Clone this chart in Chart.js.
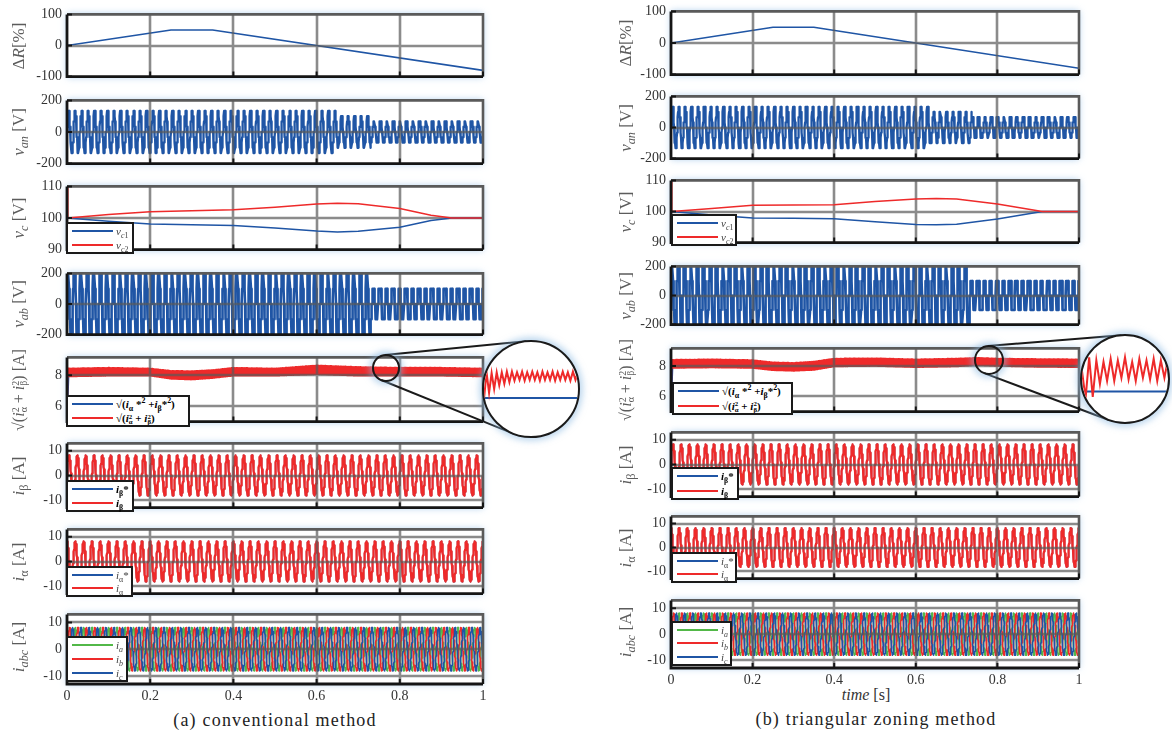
<!DOCTYPE html>
<html>
<head>
<meta charset="utf-8">
<title>conventional vs triangular zoning</title>
<script src="https://cdn.jsdelivr.net/npm/chart.js@4.4.1/dist/chart.umd.min.js"></script>
<style>
  html, body { margin: 0; padding: 0; background: #fff; }
  body { width: 1172px; height: 746px; position: relative; overflow: hidden; font-family: "Liberation Serif", "DejaVu Serif", serif; }
  canvas.panel { position: absolute; z-index: 1; }
  .ylab { position: absolute; transform: translate(-50%, -50%) rotate(-90deg); white-space: nowrap; color: #5c5c5c; font-size: 17px; z-index: 2; }
  .ylab sub, .lg sub, .lg sup { font-size: 0.72em; line-height: 0; }
  .sp { display: inline-block; position: relative; top: -0.5em; font-size: 0.62em; }
  .sb { display: inline-block; position: relative; top: 0.35em; font-size: 0.62em; margin-left: -0.5em; }
  .lg { position: absolute; background: #fff; border: 2px solid #1a1a1a; box-sizing: border-box; z-index: 3; display: flex; flex-direction: column; justify-content: space-around; font-size: 11px; color: #444; }
  .lg .row { display: flex; align-items: center; height: 13px; white-space: nowrap; }
  .lg .ln { display: inline-block; width: 41px; height: 2px; margin: 0 3px 0 4px; flex: none; }
  .lg.bold { font-weight: bold; color: #000; }
  .cap { position: absolute; transform: translate(-50%, -50%); white-space: nowrap; font-size: 18px; letter-spacing: 1.2px; color: #222; }
  .xlab { position: absolute; transform: translate(-50%, -50%); white-space: nowrap; font-size: 16px; color: #333; }
  .circ { position: absolute; border-radius: 50%; border: 2px solid #1a1a1a; box-sizing: border-box; box-shadow: 0 0 6px 3px rgba(140,185,225,0.55); z-index: 4; }
  .inset { overflow: hidden; background: #fff; z-index: 5; }
  svg#links { position: absolute; left: 0; top: 0; z-index: 3; }
</style>
</head>
<body>
<svg id="links" width="1172" height="746"></svg>
<script>
// ---------- values ----------
const timeTicks = [0, 0.2, 0.4, 0.6, 0.8, 1];
const SAMPLES = 3000;

// ΔR [%] breakpoints
const dR_t_a = [0, 0.25, 0.35, 1];
const dR_v_a = [0, 50, 50, -80];
const dR_t_b = [0, 0.25, 0.35, 1];
const dR_v_b = [0, 50, 50, -80];

// inverter voltages (amplitude held between step times, multilevel steps)
const vFreq = 64;
const van_start_a = [0, 0.645, 0.73];
const van_amp_a = [140, 105, 75];
const van_start_b = [0, 0.635, 0.737];
const van_amp_b = [140, 105, 75];
const vanLevel = 33.3;
const vab_start_a = [0, 0.73];
const vab_amp_a = [260, 130];
const vab_start_b = [0, 0.733];
const vab_amp_b = [260, 130];
const vabLevel = 100;
const vabLimit = 200;

// dc-link capacitor voltages
const vc1_t_a = [0, 0.1, 0.2, 0.3, 0.4, 0.5, 0.6, 0.65, 0.7, 0.8, 0.875, 0.925, 1];
const vc1_v_a = [100, 99.0, 98.1, 97.9, 97.6, 96.8, 95.9, 95.6, 95.8, 97.1, 99.2, 100, 100];
const vc2_t_a = [0, 0.002, 0.1, 0.2, 0.3, 0.4, 0.5, 0.6, 0.65, 0.7, 0.8, 0.875, 0.925, 1];
const vc2_v_a = [110, 100, 101.1, 102.0, 102.3, 102.6, 103.4, 104.4, 104.7, 104.5, 103.0, 100.9, 100, 100];
const vc1_t_b = [0, 0.1, 0.2, 0.3, 0.4, 0.5, 0.6, 0.65, 0.7, 0.8, 0.91, 1];
const vc1_v_b = [100, 98.9, 97.9, 97.8, 97.7, 96.7, 95.8, 95.7, 95.9, 97.6, 100, 100];
const vc2_t_b = [0, 0.002, 0.1, 0.2, 0.3, 0.4, 0.5, 0.6, 0.65, 0.7, 0.8, 0.91, 1];
const vc2_v_b = [110, 100, 101.0, 102.0, 102.1, 102.2, 103.2, 104.0, 104.2, 104.0, 102.4, 100, 100];

// current magnitude: ripple band edges of the measured value, flat reference
const mag_t_a = [0, 0.1, 0.2, 0.25, 0.3, 0.35, 0.4, 0.5, 0.55, 0.6, 0.65, 0.7, 0.8, 0.9, 1];
const mag_hi_a = [8.45, 8.5, 8.45, 8.3, 8.28, 8.35, 8.5, 8.45, 8.55, 8.65, 8.6, 8.55, 8.5, 8.5, 8.45];
const mag_lo_a = [7.9, 7.95, 7.95, 7.75, 7.7, 7.8, 7.95, 7.95, 8.0, 8.05, 8.0, 7.95, 7.95, 7.95, 7.9];
const mag_t_b = [0, 0.1, 0.2, 0.25, 0.3, 0.35, 0.4, 0.5, 0.6, 0.7, 0.75, 0.8, 0.9, 1];
const mag_hi_b = [8.42, 8.45, 8.4, 8.25, 8.22, 8.3, 8.5, 8.52, 8.45, 8.5, 8.55, 8.5, 8.47, 8.45];
const mag_lo_b = [7.85, 7.88, 7.85, 7.7, 7.66, 7.72, 7.95, 7.98, 7.9, 7.95, 8.05, 7.98, 7.92, 7.9];
const magStart = 5.0;
const magRef_a = 8.1;
const magRef_b = 8.05;

// phase currents
const iFreq = 50;
const iAmp = 8.1;
const iRefAmp = 8.25;

// zoomed windows (values in A)
const zoomRed_a = [8.09, 8.44, 8.17, 8.43, 8.22, 8.44, 8.27, 8.44, 8.29, 8.45, 8.31, 8.45, 8.33, 8.44, 8.34, 8.45, 8.33, 8.44, 8.34,
                   8.45, 8.34, 8.44, 8.33, 8.45, 8.34, 8.44, 8.34, 8.45, 8.33, 8.44, 8.34, 8.45, 8.34, 8.44, 8.33, 8.45, 8.34, 8.44];
const zoomRed_b = [8.37, 8.01, 8.55, 8.03, 8.51, 8.20, 8.49, 8.24, 8.53, 8.24, 8.51, 8.28, 8.55, 8.26, 8.49, 8.24, 8.53, 8.28,
                   8.51, 8.26, 8.53, 8.24, 8.51, 8.28, 8.53];
const zoomRef = 8.1;

// ---------- helpers ----------
const FONT = '"Liberation Serif", "DejaVu Serif", serif';
const C_BLUE = '#1f55a5', C_RED = '#ee2a2a', C_GREEN = '#52b848';

function lerp(ts, vs, t) {
  if (t <= ts[0]) return vs[0];
  for (let i = 1; i < ts.length; i++) {
    if (t <= ts[i]) { const f = (t - ts[i - 1]) / (ts[i] - ts[i - 1]); return vs[i - 1] + f * (vs[i] - vs[i - 1]); }
  }
  return vs[vs.length - 1];
}
function stepAmp(starts, amps, t) {
  let a = amps[0];
  for (let i = 0; i < starts.length; i++) if (t >= starts[i]) a = amps[i];
  return a;
}
function pts(ts, vs) { return ts.map((t, i) => ({ x: t, y: vs[i] })); }
function wave(starts, amps, freq, phase, level, limit) {
  const out = [];
  for (let k = 0; k <= SAMPLES; k++) {
    const t = k / SAMPLES;
    let v = stepAmp(starts, amps, t) * Math.sin(2 * Math.PI * freq * t + phase);
    if (level) v = Math.round(v / level) * level;
    if (limit) v = Math.max(-limit, Math.min(limit, v));
    out.push({ x: t, y: v });
  }
  return out;
}
function band(ts, hi, lo, start) {
  const out = [{ x: 0, y: start }];
  for (let k = 1; k <= 1000; k++) {
    const t = k / 1000;
    out.push({ x: t, y: k % 2 ? lerp(ts, hi, t) : lerp(ts, lo, t) });
  }
  return out;
}
function flat(v, start) { return [{ x: 0, y: start }, { x: 0.004, y: v }, { x: 1, y: v }]; }

// ---------- layout ----------
const colA = { left: 0, axisW: 67, plotRight: 483, titleX: 19 };
const colB = { left: 604, axisW: 67, plotRight: 1079, titleX: 626 };
const rowsA = [[10, 81], [96, 168], [182, 254], [269, 339], [353, 426], [439, 512], [525, 598], [610, 684]];
const rowsB = [[7, 79], [92, 163], [176, 247], [262, 329], [344, 416], [428, 501], [512, 583], [596, 668]];

const sq = (s) => `<i>i</i><span class="sp">2</span><span class="sb">${s}</span>`;
const sqrtTitle = `√(${sq('α')} + ${sq('β')}) [A]`;
const titles = ['Δ<i>R</i>[%]', '<i>v</i><sub><i>an</i></sub> [V]', '<i>v</i><sub><i>c</i></sub> [V]', '<i>v</i><sub><i>ab</i></sub> [V]',
  sqrtTitle, '<i>i</i><sub>β</sub> [A]', '<i>i</i><sub>α</sub> [A]', '<i>i</i><sub><i>abc</i></sub> [A]'];

// series are listed bottom-to-top (last one is painted on top)
function panelsFor(m) {
  const A = m === 'a';
  return [
    { yMin: -100, yMax: 100, yTicks: [-100, 0, 100],
      series: [{ data: pts(A ? dR_t_a : dR_t_b, A ? dR_v_a : dR_v_b), color: C_BLUE, w: 1.6 }] },
    { yMin: -200, yMax: 200, yTicks: [-200, 0, 200],
      series: [{ data: wave(A ? van_start_a : van_start_b, A ? van_amp_a : van_amp_b, vFreq, 0, vanLevel), color: C_BLUE, w: 2.3 }] },
    { yMin: 90, yMax: 110, yTicks: [90, 100, 110], gridBelow: true,
      series: [{ data: pts(A ? vc1_t_a : vc1_t_b, A ? vc1_v_a : vc1_v_b), color: C_BLUE, w: 1.5 },
               { data: pts(A ? vc2_t_a : vc2_t_b, A ? vc2_v_a : vc2_v_b), color: C_RED, w: 1.5 }] },
    { yMin: -200, yMax: 200, yTicks: [-200, 0, 200],
      series: [{ data: wave(A ? vab_start_a : vab_start_b, A ? vab_amp_a : vab_amp_b, vFreq, 0.6, vabLevel, vabLimit), color: C_BLUE, w: 2.6 }] },
    { yMin: 5, yMax: 9.15, yTicks: [6, 8],
      series: [{ data: flat(A ? magRef_a : magRef_b, magStart), color: C_BLUE, w: 1.6 },
               { data: band(A ? mag_t_a : mag_t_b, A ? mag_hi_a : mag_hi_b, A ? mag_lo_a : mag_lo_b, magStart), color: C_RED, w: 1.2 }] },
    { yMin: -13, yMax: 13, yTicks: [-10, 0, 10],
      series: [{ data: wave([0], [iRefAmp], iFreq, 0, 0), color: C_BLUE, w: 1.4 },
               { data: wave([0], [iAmp], iFreq, 0, 0), color: C_RED, w: 2.3 }] },
    { yMin: -13, yMax: 13, yTicks: [-10, 0, 10],
      series: [{ data: wave([0], [iRefAmp], iFreq, Math.PI / 2, 0), color: C_BLUE, w: 1.4 },
               { data: wave([0], [iAmp], iFreq, Math.PI / 2, 0), color: C_RED, w: 2.3 }] },
    { yMin: -13, yMax: 13, yTicks: [-10, 0, 10],
      series: [{ data: wave([0], [iAmp], iFreq, Math.PI / 2, 0), color: C_GREEN, w: 1.6 },
               { data: wave([0], [iAmp], iFreq, Math.PI / 2 - 2 * Math.PI / 3, 0), color: C_RED, w: 1.6 },
               { data: wave([0], [iAmp], iFreq, Math.PI / 2 + 2 * Math.PI / 3, 0), color: C_BLUE, w: 1.6 }] }
  ];
}

// grid + box drawn like the MATLAB axes
function drawGrid(chart, opts) {
  const { ctx, chartArea: a, scales: { x, y } } = chart;
  ctx.save();
  ctx.lineWidth = 2.6;
  ctx.strokeStyle = 'rgba(90,90,90,0.7)';
  ctx.beginPath();
  timeTicks.forEach(v => {
    const px = Math.round(x.getPixelForValue(v));
    if (px > a.left + 2 && px < a.right - 2) { ctx.moveTo(px, a.top); ctx.lineTo(px, a.bottom); }
  });
  opts.yTicks.forEach(v => {
    const py = Math.round(y.getPixelForValue(v));
    if (py > a.top + 2 && py < a.bottom - 2) { ctx.moveTo(a.left, py); ctx.lineTo(a.right, py); }
  });
  ctx.stroke();
  ctx.restore();
}
const framePlugin = {
  id: 'frame',
  beforeDatasetsDraw(chart, args, opts) {
    const { ctx, chartArea: a } = chart;
    ctx.save();
    ctx.shadowColor = 'rgba(140,185,230,0.75)';
    ctx.shadowBlur = 7;
    ctx.fillStyle = '#fff';
    ctx.fillRect(a.left, a.top, a.right - a.left, a.bottom - a.top);
    ctx.restore();
    if (opts.gridBelow) drawGrid(chart, opts);
  },
  afterDatasetsDraw(chart, args, opts) {
    if (!opts.gridBelow) drawGrid(chart, opts);
    const { ctx, chartArea: a, scales: { x, y } } = chart;
    ctx.save();
    ctx.strokeStyle = '#5a5a5a';
    ctx.lineWidth = 2.6;
    ctx.beginPath();
    ctx.moveTo(a.left, a.top); ctx.lineTo(a.right, a.top); ctx.lineTo(a.right, a.bottom);
    ctx.stroke();
    ctx.strokeStyle = '#151515';
    ctx.lineWidth = 2.8;
    ctx.beginPath();
    ctx.moveTo(a.left, a.top); ctx.lineTo(a.left, a.bottom); ctx.lineTo(a.right, a.bottom);
    ctx.stroke();
    ctx.lineWidth = 2;
    ctx.beginPath();
    timeTicks.forEach(v => { const px = x.getPixelForValue(v); ctx.moveTo(px, a.bottom); ctx.lineTo(px, a.bottom - 5); });
    opts.yTicks.forEach(v => { const py = y.getPixelForValue(v); ctx.moveTo(a.left, py); ctx.lineTo(a.left + 5, py); });
    ctx.stroke();
    ctx.restore();
  }
};

function makePanel(col, row, p, isBottom) {
  const PAD = 9;
  const xH = isBottom ? 28 : 0;
  const cv = document.createElement('canvas');
  cv.className = 'panel';
  cv.width = col.plotRight + PAD - col.left;
  cv.height = row[1] - row[0] + 2 * PAD + xH;
  cv.style.left = col.left + 'px';
  cv.style.top = (row[0] - PAD) + 'px';
  document.body.appendChild(cv);
  const n = p.series.length;
  new Chart(cv, {
    type: 'line',
    data: {
      datasets: p.series.map((s, i) => ({
        data: s.data, borderColor: s.color, borderWidth: s.w, borderJoinStyle: 'round',
        pointRadius: 0, tension: 0, fill: false, order: n - i
      }))
    },
    options: {
      responsive: false, animation: false, events: [],
      layout: { padding: { left: 0, right: PAD, top: PAD, bottom: PAD } },
      plugins: { legend: { display: false }, tooltip: { enabled: false },
                 frame: { yTicks: p.yTicks, gridBelow: !!p.gridBelow } },
      scales: {
        x: {
          type: 'linear', min: 0, max: 1,
          grid: { display: false, drawTicks: false }, border: { display: false },
          ticks: { display: isBottom, padding: 4, color: '#333', font: { family: FONT, size: 14 },
                   callback: v => String(+v.toFixed(1)) },
          afterBuildTicks: s => { s.ticks = timeTicks.map(v => ({ value: v })); },
          afterFit: s => { s.height = xH; }
        },
        y: {
          type: 'linear', min: p.yMin, max: p.yMax,
          grid: { display: false, drawTicks: false }, border: { display: false },
          ticks: { padding: 5, color: '#333', font: { family: FONT, size: 14 } },
          afterBuildTicks: s => { s.ticks = p.yTicks.map(v => ({ value: v })); },
          afterFit: s => { s.width = col.axisW; }
        }
      }
    },
    plugins: [framePlugin]
  });
}

function addDiv(cls, html, css) {
  const d = document.createElement('div');
  d.className = cls;
  d.innerHTML = html;
  Object.assign(d.style, css);
  document.body.appendChild(d);
  return d;
}

function legend(box, items, bold) {
  const rows = items.map(it => `<div class="row"><span class="ln" style="background:${it[0]}"></span><span>${it[1]}</span></div>`).join('');
  addDiv('lg' + (bold ? ' bold' : ''), rows,
    { left: box[0] + 'px', top: box[1] + 'px', width: box[2] + 'px', height: box[3] + 'px' });
}

function inset(c, red, yMin, yMax) {
  const d = addDiv('circ inset', '', { left: (c.x - c.r) + 'px', top: (c.y - c.r) + 'px', width: 2 * c.r + 'px', height: 2 * c.r + 'px' });
  const cv = document.createElement('canvas');
  cv.width = 2 * c.r - 4; cv.height = 2 * c.r - 4;
  d.appendChild(cv);
  new Chart(cv, {
    type: 'line',
    data: {
      datasets: [
        { data: [{ x: 0, y: zoomRef }, { x: red.length - 1, y: zoomRef }], borderColor: C_BLUE, borderWidth: 2, pointRadius: 0, order: 2 },
        { data: red.map((v, i) => ({ x: i, y: v })), borderColor: C_RED, borderWidth: 2, pointRadius: 0, tension: 0, order: 1 }
      ]
    },
    options: {
      responsive: false, animation: false, events: [],
      layout: { padding: 0 },
      plugins: { legend: { display: false }, tooltip: { enabled: false } },
      scales: {
        x: { type: 'linear', display: false, min: 0, max: red.length - 1 },
        y: { type: 'linear', display: false, min: yMin, max: yMax }
      }
    }
  });
}

function link(small, big) {
  addDiv('circ', '', { left: (small.x - small.r) + 'px', top: (small.y - small.r) + 'px', width: 2 * small.r + 'px', height: 2 * small.r + 'px' });
  const dx = big.x - small.x, dy = big.y - small.y, d = Math.hypot(dx, dy);
  const th = Math.atan2(dy, dx), al = Math.acos((small.r - big.r) / d);
  const svg = document.getElementById('links');
  [th + al, th - al].forEach(a => {
    const l = document.createElementNS('http://www.w3.org/2000/svg', 'line');
    l.setAttribute('x1', small.x + (small.r - 1) * Math.cos(a));
    l.setAttribute('y1', small.y + (small.r - 1) * Math.sin(a));
    l.setAttribute('x2', big.x + (big.r - 1) * Math.cos(a));
    l.setAttribute('y2', big.y + (big.r - 1) * Math.sin(a));
    l.setAttribute('stroke', '#1a1a1a');
    l.setAttribute('stroke-width', '2');
    svg.appendChild(l);
  });
}

// ---------- build ----------
[[colA, rowsA, 'a'], [colB, rowsB, 'b']].forEach(([col, rows, m]) => {
  const panels = panelsFor(m);
  panels.forEach((p, i) => {
    makePanel(col, rows[i], p, i === panels.length - 1);
    addDiv('ylab', titles[i], { left: col.titleX + 'px', top: ((rows[i][0] + rows[i][1]) / 2) + 'px', fontSize: i === 4 ? '16px' : '17px' });
  });
});

const lgVc = [[C_BLUE, '<i>v</i><sub><i>c</i>1</sub>'], [C_RED, '<i>v</i><sub><i>c</i>2</sub>']];
const lgMag = [[C_BLUE, '√(<i>i</i><sub>α</sub> *<sup>2</sup> +<i>i</i><sub>β</sub>*<sup>2</sup>)'],
               [C_RED, `√(${sq('α')} + ${sq('β')})`]];
const lgIb = [[C_BLUE, '<i>i</i><sub>β</sub>*'], [C_RED, '<i>i</i><sub>β</sub>']];
const lgIa = [[C_BLUE, '<i>i</i><sub>α</sub>*'], [C_RED, '<i>i</i><sub>α</sub>']];
const lgIabc = [[C_GREEN, '<i>i</i><sub><i>a</i></sub>'], [C_RED, '<i>i</i><sub><i>b</i></sub>'], [C_BLUE, '<i>i</i><sub><i>c</i></sub>']];

legend([66, 222, 68, 32], lgVc);
legend([66, 395, 124, 32], lgMag, true);
legend([66, 480, 68, 32], lgIb, true);
legend([66, 566, 67, 31], lgIa);
legend([66, 636, 62, 46], lgIabc);
legend([671, 214, 66, 32], lgVc);
legend([672, 382, 121, 33], lgMag, true);
legend([671, 467, 68, 33], lgIb, true);
legend([671, 552, 66, 31], lgIa);
legend([671, 621, 61, 45], lgIabc);

const smallA = { x: 386, y: 368, r: 14 }, bigA = { x: 531, y: 389, r: 49 };
const smallB = { x: 989, y: 360, r: 15 }, bigB = { x: 1125, y: 379, r: 45 };
link(smallA, bigA);
link(smallB, bigB);
inset(bigA, zoomRed_a, 7.6, 8.84);
inset(bigB, zoomRed_b, 7.7, 8.83);

addDiv('xlab', '<i>time</i> [s]', { left: '866px', top: '695px' });
addDiv('cap', '(a) conventional method', { left: '275px', top: '720px' });
addDiv('cap', '(b) triangular zoning method', { left: '876px', top: '719px' });
</script>
</body>
</html>
